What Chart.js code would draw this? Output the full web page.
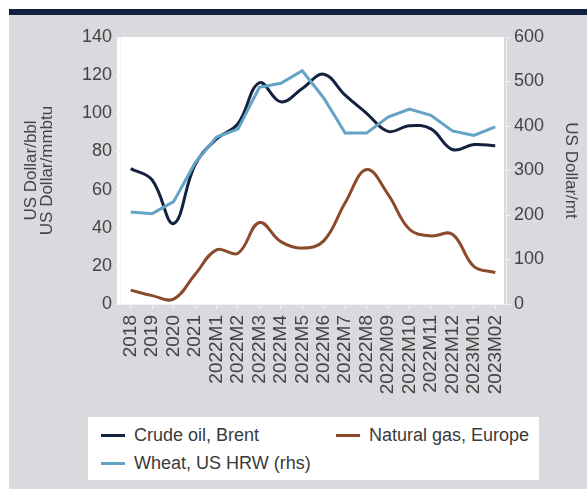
<!DOCTYPE html>
<html>
<head>
<meta charset="utf-8">
<script src="https://cdn.jsdelivr.net/npm/chart.js@4/dist/chart.umd.min.js"></script>
<style>
  body { margin: 0; background: #ffffff; }
  #wrap { position: relative; width: 587px; height: 489px; overflow: hidden; }
  #frame { position: absolute; left: 9px; top: 9px; right: 0; bottom: 0; background: #d9d9de; border-top: 6px solid #10223f; }
  #chart { position: absolute; left: 0; top: 0; }
  #legend {
    position: absolute; left: 88px; top: 417px; width: 451px; height: 63px;
    background: #ffffff; box-sizing: border-box; padding: 4px 0 0 13px;
    display: grid; grid-template-columns: 235px auto; grid-auto-rows: 28px;
    font-family: "Liberation Sans", Arial, sans-serif;
    font-size: 18px; color: #3a3a3a; white-space: nowrap;
  }
  .item { display: flex; align-items: center; }
  .swatch { width: 24px; height: 3px; margin-right: 9px; flex: none; }
</style>
</head>
<body>
<div id="wrap">
  <div id="frame"></div>
  <canvas id="chart" width="587" height="489"></canvas>
  <div id="legend"></div>
</div>
<script>
//Categories
const labels = [
  "2018", "2019", "2020", "2021",
  "2022M1", "2022M2", "2022M3", "2022M4", "2022M5", "2022M6", "2022M7", "2022M8",
  "2022M09", "2022M10", "2022M11", "2022M12", "2023M01", "2023M02",
];

//Series values
const crudeOil = [71.0, 65.0, 42.2, 73.0, 86.5, 94.5, 116.0, 106.0, 113.0, 120.5, 109.5, 100.0, 90.5, 93.5, 91.8, 81.0, 83.6, 83.0];
const naturalGas = [7.3, 4.4, 2.6, 15.5, 28.4, 26.6, 42.7, 32.7, 29.3, 33.1, 53.1, 70.5, 57.5, 39.2, 35.7, 36.6, 19.7, 16.5];
const wheat = [207, 203, 230, 317, 375, 393, 487, 496, 524, 463, 384, 384, 420, 438, 424, 389, 379, 398];

//Series names and colors
const seriesNames = ["Crude oil, Brent", "Natural gas, Europe", "Wheat, US HRW (rhs)"];
const seriesColors = ["#13223f", "#8b4a2a", "#63a3c5"];

//Axis ticks
const leftTicks = [0, 20, 40, 60, 80, 100, 120, 140];
const rightTicks = [0, 100, 200, 300, 400, 500, 600];

const font = "'Liberation Sans', Arial, sans-serif";
const textColor = "#444444";
const lineColor = "#f2f2f2";

//White plot background
const plotBg = {
  id: "plotBg",
  beforeDraw(chart) {
    const { ctx, chartArea } = chart;
    ctx.save();
    ctx.fillStyle = "#ffffff";
    ctx.fillRect(chartArea.left - 3, chartArea.top, chartArea.right - chartArea.left + 1, chartArea.bottom - chartArea.top);
    ctx.restore();
  },
};

const axisGrid = { drawOnChartArea: false, color: lineColor, tickLength: 5, lineWidth: 1 };

new Chart(document.getElementById("chart"), {
  type: "line",
  data: {
    labels,
    datasets: [
      { label: seriesNames[1], data: naturalGas, borderColor: seriesColors[1], yAxisID: "y", tension: 0.4 },
      { label: seriesNames[2], data: wheat, borderColor: seriesColors[2], yAxisID: "y1", tension: 0 },
      { label: seriesNames[0], data: crudeOil, borderColor: seriesColors[0], yAxisID: "y", tension: 0.4 },
    ],
  },
  options: {
    responsive: false,
    animation: false,
    layout: { padding: { top: 37, left: 0, right: 0, bottom: 0 } },
    elements: { point: { radius: 0 }, line: { borderWidth: 3 } },
    plugins: { legend: { display: false }, tooltip: { enabled: false } },
    scales: {
      x: {
        offset: true,
        grid: { ...axisGrid, offset: false },
        border: { color: lineColor },
        ticks: { maxRotation: 90, minRotation: 90, autoSkip: false, padding: 6, color: textColor, font: { family: font, size: 19 } },
        afterFit: s => { s.height = 185; },
      },
      y: {
        position: "left",
        min: 0,
        max: 140,
        afterBuildTicks: s => { s.ticks = leftTicks.map(value => ({ value })); },
        grid: axisGrid,
        border: { color: lineColor },
        ticks: { padding: 3, color: textColor, font: { family: font, size: 18 } },
        title: {
          display: true,
          text: ["US Dollar/bbl", "US Dollar/mmbtu"],
          color: textColor,
          font: { family: font, size: 17, lineHeight: 0.9 },
          padding: { top: 24, bottom: 0 },
        },
        afterFit: s => { s.width = 120; },
      },
      y1: {
        position: "right",
        min: 0,
        max: 600,
        afterBuildTicks: s => { s.ticks = rightTicks.map(value => ({ value })); },
        grid: axisGrid,
        border: { color: lineColor },
        ticks: { padding: 3, color: textColor, font: { family: font, size: 18 } },
        title: {
          display: true,
          text: "US Dollar/mt",
          color: textColor,
          font: { family: font, size: 17, lineHeight: 0.9 },
          padding: { top: 9, bottom: 0 },
        },
        afterFit: s => { s.width = 81; },
      },
    },
  },
  plugins: [plotBg],
});

//Legend, crude and gas on the first row, wheat on the second
const legend = document.getElementById("legend");
seriesNames.forEach((name, i) => {
  const item = document.createElement("div");
  item.className = "item";
  const sw = document.createElement("span");
  sw.className = "swatch";
  sw.style.background = seriesColors[i];
  const txt = document.createElement("span");
  txt.textContent = name;
  item.appendChild(sw);
  item.appendChild(txt);
  legend.appendChild(item);
});
</script>
</body>
</html>
